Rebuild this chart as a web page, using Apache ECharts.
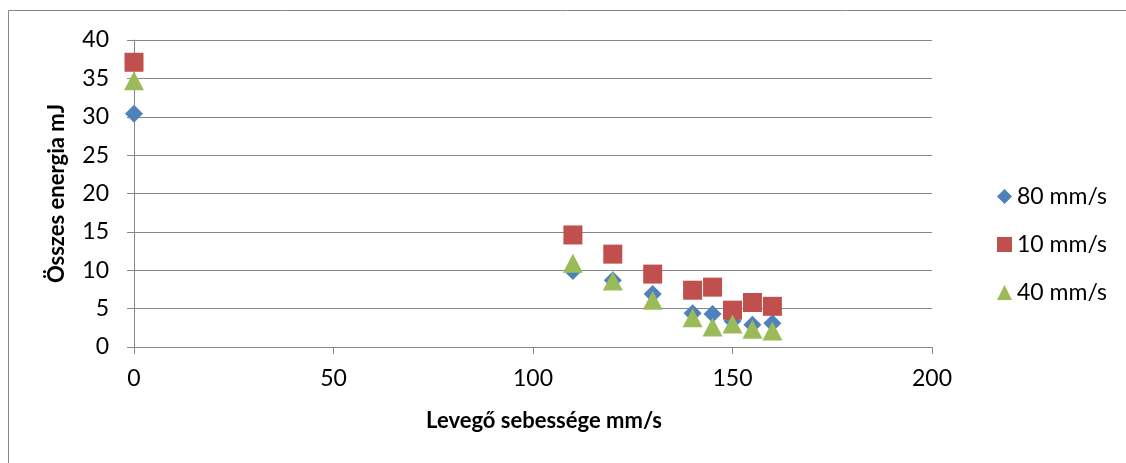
<!DOCTYPE html>
<html>
<head>
<meta charset="utf-8">
<script src="https://cdn.jsdelivr.net/npm/echarts@6/dist/echarts.min.js"></script>
<style>
  html, body { margin: 0; padding: 0; background: #fff; }
  #chart { width: 1126px; height: 463px; }
</style>
</head>
<body>
<div id="chart"></div>
<script>
// Air speed (mm/s) on the x axis
const airSpeed = [0, 110, 120, 130, 140, 145, 150, 155, 160];

// Total energy (mJ) for each feed rate
const energy80 = [30.4, 9.9, 8.7, 6.9, 4.4, 4.3, 3.4, 2.9, 3.1];
const energy10 = [37.1, 14.6, 12.1, 9.5, 7.4, 7.8, 4.8, 5.8, 5.3];
const energy40 = [34.7, 10.9, 8.6, 6.1, 3.8, 2.6, 3.0, 2.3, 2.1];

const seriesNames = ['80 mm/s', '10 mm/s', '40 mm/s'];

const FONT = 'Lato';
const GRID_COLOR = '#868686';

const pairs = ys => airSpeed.map((x, i) => [x, ys[i]]);

const chart = echarts.init(document.getElementById('chart'), null, { renderer: 'canvas' });

chart.setOption({
  animation: false,
  backgroundColor: '#ffffff',
  textStyle: { fontFamily: FONT },
  graphic: [
    {
      type: 'polyline',
      shape: { points: [[8.5, 463], [8.5, 10.5], [1126, 10.5]] },
      style: { stroke: '#868686', lineWidth: 1, fill: null }
    }
  ],
  grid: { left: 134, right: 194, top: 40, bottom: 116 },
  legend: {
    orient: 'vertical',
    left: 992,
    top: 180,
    itemGap: 25,
    itemWidth: 15,
    itemHeight: 15,
    textStyle: { fontFamily: FONT, fontSize: 23, color: '#000' },
    data: [
      { name: seriesNames[0], icon: 'diamond' },
      { name: seriesNames[1], icon: 'rect' },
      { name: seriesNames[2], icon: 'triangle' }
    ]
  },
  xAxis: {
    type: 'value',
    min: 0,
    max: 200,
    interval: 50,
    name: 'Levegő sebessége mm/s',
    nameLocation: 'middle',
    nameGap: 63,
    nameTextStyle: { fontFamily: FONT, fontSize: 22, fontWeight: 'bold', color: '#000', padding: [0, 0, 0, 22] },
    axisLine: { show: true, lineStyle: { color: GRID_COLOR, width: 1 } },
    axisTick: { show: true, length: 7, lineStyle: { color: GRID_COLOR } },
    axisLabel: { fontFamily: FONT, fontSize: 23, color: '#000', margin: 20 },
    splitLine: { show: false }
  },
  yAxis: {
    type: 'value',
    min: 0,
    max: 40,
    interval: 5,
    name: 'Összes energia mJ',
    nameLocation: 'middle',
    nameGap: 66,
    nameTextStyle: { fontFamily: FONT, fontSize: 22, fontWeight: 'bold', color: '#000' },
    axisLine: { show: true, lineStyle: { color: GRID_COLOR, width: 1 } },
    axisTick: { show: true, length: 7, lineStyle: { color: GRID_COLOR } },
    axisLabel: { fontFamily: FONT, fontSize: 23, color: '#000', margin: 25 },
    splitLine: { show: true, lineStyle: { color: GRID_COLOR, width: 1 } }
  },
  series: [
    {
      name: seriesNames[0],
      type: 'scatter',
      symbol: 'diamond',
      symbolSize: [18, 18],
      itemStyle: { color: '#4F81BD', opacity: 1 },
      data: pairs(energy80)
    },
    {
      name: seriesNames[1],
      type: 'scatter',
      symbol: 'rect',
      symbolSize: [19, 19],
      itemStyle: { color: '#C0504D', opacity: 1 },
      data: pairs(energy10)
    },
    {
      name: seriesNames[2],
      type: 'scatter',
      symbol: 'triangle',
      symbolSize: [20, 19],
      itemStyle: { color: '#9BBB59', opacity: 1 },
      data: pairs(energy40)
    }
  ]
});
</script>
</body>
</html>
